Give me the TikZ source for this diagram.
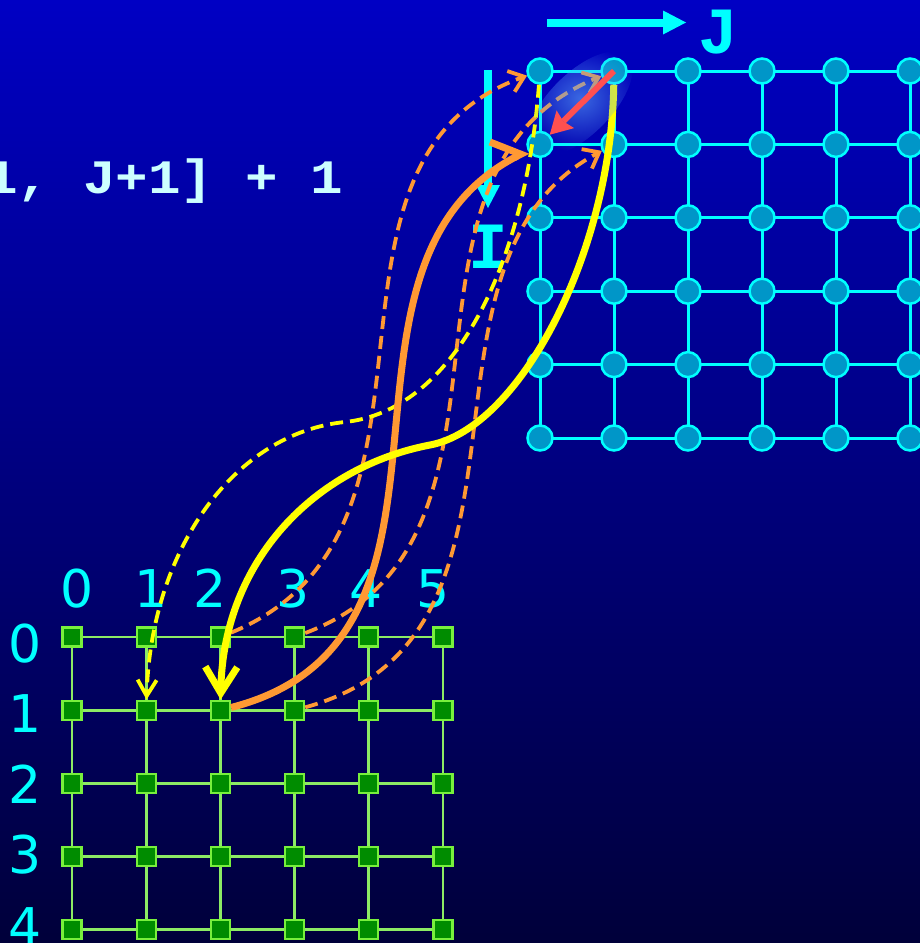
\documentclass[tikz,border=0pt]{standalone}
\usepackage{fontspec}
\setmainfont{DejaVu Sans}
\newfontfamily\codefont[FakeStretch=1.13]{Liberation Mono}
\newfontfamily\axisfont{Liberation Mono}
\usepackage{xcolor}
\definecolor{bgtop}{RGB}{0,0,196}
\definecolor{bgbot}{RGB}{0,0,58}
\definecolor{glowin}{RGB}{90,160,250}
\definecolor{gridcyan}{RGB}{0,255,255}
\definecolor{dotfill}{RGB}{0,150,200}
\definecolor{cellfill}{RGB}{0,140,0}
\definecolor{celledge}{RGB}{120,240,60}
\definecolor{celllink}{RGB}{140,235,100}
\definecolor{deeporange}{RGB}{255,153,51}
\definecolor{deepyellow}{RGB}{255,255,0}
\definecolor{deepred}{RGB}{255,80,80}
\definecolor{codetext}{RGB}{204,255,255}
\usepackage{tikz}
\usetikzlibrary{arrows.meta, positioning, shapes.geometric, backgrounds, fadings}
\tikzfading[name=glowfade, inner color=transparent!35, outer color=transparent!100]

\begin{document}
\begin{tikzpicture}[
  x=1pt, y=1pt,
  dot/.style={circle, draw=gridcyan, line width=2.5pt, fill=dotfill, minimum size=25pt, inner sep=0pt},
  cell/.style={rectangle, draw=celledge, line width=2.2pt, fill=cellfill, minimum size=19pt, inner sep=0pt},
  glow/.style={ellipse, fill=glowin, path fading=glowfade, minimum width=135pt, minimum height=62pt, rotate=45, inner sep=0pt},
  toplink/.style={gridcyan, line width=3pt},
  botlink/.style={celllink, line width=2.7pt},
  numlbl/.style={text=gridcyan, font=\fontsize{52}{52}\selectfont, inner sep=0pt},
  axislbl/.style={text=gridcyan, font=\axisfont\bfseries\fontsize{66}{66}\selectfont, inner sep=0pt},
  codelbl/.style={text=codetext, font=\codefont\bfseries\fontsize{48}{48}\selectfont, inner sep=0pt},
  axisarrow/.style={gridcyan, line width=8pt, -{Triangle[length=23pt,width=24pt,line width=0pt]}},
  ysolid/.style={deepyellow, line width=7pt, -{Straight Barb[length=26pt,width=32pt]}},
  ydash/.style={deepyellow, line width=3.8pt, dash pattern=on 13pt off 7pt, -{Straight Barb[length=16pt,width=19pt]}},
  osolid/.style={deeporange, line width=7pt, -{Straight Barb[left,length=22pt,width=50pt]}},
  odash/.style={deeporange, line width=3.8pt, dash pattern=on 13pt off 7pt, -{Straight Barb[length=14pt,width=22pt]}},
  redarrow/.style={deepred, line width=6pt, -{Stealth[length=22pt,width=25pt,inset=3pt,line width=0pt]}}
]
\useasboundingbox (0,0) rectangle (920,-943);
\begin{pgfonlayer}{background}
\shade[top color=bgtop, bottom color=bgbot] (0,0) rectangle (920,-943);
\end{pgfonlayer}

\foreach \i in {0,...,5}
  \foreach \j in {0,...,5}
    \node[dot] (t-\i-\j) at ({540+74*\j},{-71-73.4*\i}) {};
\foreach \i in {0,...,4}
  \foreach \j in {0,...,5}
    \node[cell] (b-\i-\j) at ({72+74.2*\j},{-637-73.2*\i}) {};

\begin{pgfonlayer}{background}
\foreach \i in {0,...,5}
  \draw[toplink] (t-\i-0.center) -- (t-\i-5.center) -- ++(15,0);
\foreach \j in {0,...,5}
  \draw[toplink] (t-0-\j.center) -- (t-5-\j.center);
\foreach \i in {0,...,4}
  \draw[botlink] (b-\i-0.center) -- (b-\i-5.center);
\foreach \j in {0,...,5}
  \draw[botlink] (b-0-\j.center) -- (b-4-\j.center);
\end{pgfonlayer}

\foreach \j/\x in {0/77.5,1/151.5,2/210.5,3/293.5,4/366.5,5/433.5}
  \node[numlbl, anchor=base] (col-\j) at (\x,-607) {\j};
\foreach \i/\y in {0/662,1/732,2/803,3/873,4/945}
  \node[numlbl, anchor=base] (row-\i) at (25.5,-\y) {\i};

\node[codelbl, anchor=base west] (expr) at (-14.75,-193) {1, J+1] + 1};

\node[axislbl, anchor=base] (J) at (718,-53) {J};
\node[axislbl, anchor=base] (I) at (488,-268) {I};
\coordinate (jtail) at (547,-22.5);
\coordinate (jtip) at (686,-22.5);
\coordinate (itail) at (488,-70);
\coordinate (itip) at (488,-208);
\draw[axisarrow] (jtail) -- (jtip);
\draw[axisarrow] (itail) -- (itip);

\coordinate (ymid) at (430,-445);
\coordinate (ydmid) at (345,-422);
\draw[odash] (b-0-2) .. controls +(256,105) and +(-254,-91) .. (t-0-0);
\draw[odash] (b-0-3) .. controls +(256,96) and +(-250,-102) .. (t-0-1);
\draw[odash] (b-1-3) .. controls +(271,74) and +(-222,-118) .. (t-1-1);
\draw[ydash] (t-0-0) .. controls +(-15,-198) and +(107,11) .. (ydmid) .. controls +(-110,-11) and +(5,162) .. (b-1-1);
\draw[osolid] (b-1-2) .. controls +(278,71) and +(-238,-122) .. (t-1-0);
\draw[ysolid] (t-0-1) .. controls +(-3,-182) and +(90,17) .. (ymid) .. controls +(-115,-22) and +(3,150) .. (b-1-2);
\node[glow] (glw) at (580,-104) {};
\draw[redarrow] (t-0-1.center) -- (t-1-0);
\end{tikzpicture}
\end{document}
